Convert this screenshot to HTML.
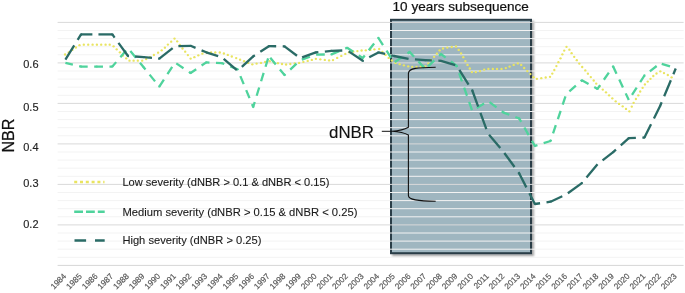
<!DOCTYPE html>
<html><head><meta charset="utf-8"><style>
html,body{margin:0;padding:0;background:#fff;}
svg{display:block;will-change:transform;font-family:"Liberation Sans", sans-serif;}
</style></head><body>
<svg width="685" height="293" viewBox="0 0 685 293">
<defs><filter id="sh" x="-10%" y="-10%" width="130%" height="130%"><feGaussianBlur in="SourceAlpha" stdDeviation="1.2"/><feOffset dx="1.5" dy="1.5" result="b"/><feComponentTransfer><feFuncA type="linear" slope="0.35"/></feComponentTransfer><feMerge><feMergeNode/><feMergeNode in="SourceGraphic"/></feMerge></filter></defs>
<rect width="685" height="293" fill="#fff"/>
<rect x="391" y="19.8" width="140" height="233.4" fill="#9fb6c0" stroke="#2a3e46" stroke-width="2" filter="url(#sh)"/>
<line x1="57.6" x2="683.6" y1="22.40" y2="22.40" stroke="#d9d9d9" stroke-width="1"/>
<line x1="57.6" x2="683.6" y1="30.50" y2="30.50" stroke="#f3f3f3" stroke-width="1"/>
<line x1="57.6" x2="683.6" y1="38.60" y2="38.60" stroke="#f3f3f3" stroke-width="1"/>
<line x1="57.6" x2="683.6" y1="46.70" y2="46.70" stroke="#f3f3f3" stroke-width="1"/>
<line x1="57.6" x2="683.6" y1="54.80" y2="54.80" stroke="#f3f3f3" stroke-width="1"/>
<line x1="57.6" x2="683.6" y1="62.90" y2="62.90" stroke="#d9d9d9" stroke-width="1"/>
<line x1="57.6" x2="683.6" y1="71.00" y2="71.00" stroke="#f3f3f3" stroke-width="1"/>
<line x1="57.6" x2="683.6" y1="79.10" y2="79.10" stroke="#f3f3f3" stroke-width="1"/>
<line x1="57.6" x2="683.6" y1="87.20" y2="87.20" stroke="#f3f3f3" stroke-width="1"/>
<line x1="57.6" x2="683.6" y1="95.30" y2="95.30" stroke="#f3f3f3" stroke-width="1"/>
<line x1="57.6" x2="683.6" y1="103.40" y2="103.40" stroke="#d9d9d9" stroke-width="1"/>
<line x1="57.6" x2="683.6" y1="111.50" y2="111.50" stroke="#f3f3f3" stroke-width="1"/>
<line x1="57.6" x2="683.6" y1="119.60" y2="119.60" stroke="#f3f3f3" stroke-width="1"/>
<line x1="57.6" x2="683.6" y1="127.70" y2="127.70" stroke="#f3f3f3" stroke-width="1"/>
<line x1="57.6" x2="683.6" y1="135.80" y2="135.80" stroke="#f3f3f3" stroke-width="1"/>
<line x1="57.6" x2="683.6" y1="143.90" y2="143.90" stroke="#d9d9d9" stroke-width="1"/>
<line x1="57.6" x2="683.6" y1="152.00" y2="152.00" stroke="#f3f3f3" stroke-width="1"/>
<line x1="57.6" x2="683.6" y1="160.10" y2="160.10" stroke="#f3f3f3" stroke-width="1"/>
<line x1="57.6" x2="683.6" y1="168.20" y2="168.20" stroke="#f3f3f3" stroke-width="1"/>
<line x1="57.6" x2="683.6" y1="176.30" y2="176.30" stroke="#f3f3f3" stroke-width="1"/>
<line x1="57.6" x2="683.6" y1="184.40" y2="184.40" stroke="#d9d9d9" stroke-width="1"/>
<line x1="57.6" x2="683.6" y1="192.50" y2="192.50" stroke="#f3f3f3" stroke-width="1"/>
<line x1="57.6" x2="683.6" y1="200.60" y2="200.60" stroke="#f3f3f3" stroke-width="1"/>
<line x1="57.6" x2="683.6" y1="208.70" y2="208.70" stroke="#f3f3f3" stroke-width="1"/>
<line x1="57.6" x2="683.6" y1="216.80" y2="216.80" stroke="#f3f3f3" stroke-width="1"/>
<line x1="57.6" x2="683.6" y1="224.90" y2="224.90" stroke="#d9d9d9" stroke-width="1"/>
<line x1="57.6" x2="683.6" y1="233.00" y2="233.00" stroke="#f3f3f3" stroke-width="1"/>
<line x1="57.6" x2="683.6" y1="241.10" y2="241.10" stroke="#f3f3f3" stroke-width="1"/>
<line x1="57.6" x2="683.6" y1="249.20" y2="249.20" stroke="#f3f3f3" stroke-width="1"/>
<line x1="57.6" x2="683.6" y1="257.30" y2="257.30" stroke="#f3f3f3" stroke-width="1"/>
<line x1="57.6" x2="683.6" y1="265.40" y2="265.40" stroke="#d6d6d6" stroke-width="1"/>
<g fill="#e9e460"><circle cx="65.1" cy="54.5" r="1.17"/><circle cx="68.7" cy="52.4" r="1.17"/><circle cx="72.3" cy="49.9" r="1.17"/><circle cx="75.9" cy="47.5" r="1.17"/><circle cx="79.5" cy="45.2" r="1.17"/><circle cx="83.8" cy="44.7" r="1.17"/><circle cx="88.2" cy="44.7" r="1.17"/><circle cx="92.6" cy="44.7" r="1.17"/><circle cx="96.9" cy="44.7" r="1.17"/><circle cx="101.2" cy="44.7" r="1.17"/><circle cx="105.6" cy="44.7" r="1.17"/><circle cx="109.7" cy="44.7" r="1.17"/><circle cx="113.6" cy="46.3" r="1.17"/><circle cx="116.7" cy="49.3" r="1.17"/><circle cx="119.9" cy="52.3" r="1.17"/><circle cx="122.9" cy="55.5" r="1.17"/><circle cx="126.2" cy="58.3" r="1.17"/><circle cx="129.5" cy="60.7" r="1.17"/><circle cx="133.6" cy="60.7" r="1.17"/><circle cx="137.8" cy="60.7" r="1.17"/><circle cx="142.2" cy="60.7" r="1.17"/><circle cx="146.2" cy="59.1" r="1.17"/><circle cx="150.1" cy="57.1" r="1.17"/><circle cx="153.9" cy="55" r="1.17"/><circle cx="158.1" cy="52.7" r="1.17"/><circle cx="161.7" cy="50.3" r="1.17"/><circle cx="164.9" cy="47.7" r="1.17"/><circle cx="167.9" cy="44.6" r="1.17"/><circle cx="171.2" cy="41.7" r="1.17"/><circle cx="174.5" cy="38.6" r="1.17"/><circle cx="177.2" cy="41.3" r="1.17"/><circle cx="179.8" cy="44.9" r="1.17"/><circle cx="182.5" cy="48.5" r="1.17"/><circle cx="185.2" cy="51.7" r="1.17"/><circle cx="187.9" cy="55.1" r="1.17"/><circle cx="190.6" cy="58.6" r="1.17"/><circle cx="194.4" cy="57.2" r="1.17"/><circle cx="198.3" cy="55.3" r="1.17"/><circle cx="202.4" cy="53.7" r="1.17"/><circle cx="206.7" cy="52.5" r="1.17"/><circle cx="211.1" cy="52.5" r="1.17"/><circle cx="215.3" cy="52.5" r="1.17"/><circle cx="219.8" cy="52.5" r="1.17"/><circle cx="223.9" cy="53.5" r="1.17"/><circle cx="227.8" cy="54.9" r="1.17"/><circle cx="231.8" cy="56.5" r="1.17"/><circle cx="236.2" cy="58.1" r="1.17"/><circle cx="240.1" cy="59.7" r="1.17"/><circle cx="244.1" cy="61.2" r="1.17"/><circle cx="248.2" cy="62.9" r="1.17"/><circle cx="252.3" cy="64.3" r="1.17"/><circle cx="256.6" cy="63.6" r="1.17"/><circle cx="261" cy="62.9" r="1.17"/><circle cx="265.1" cy="61.9" r="1.17"/><circle cx="269.7" cy="61.2" r="1.17"/><circle cx="273.8" cy="62.4" r="1.17"/><circle cx="277.9" cy="63.2" r="1.17"/><circle cx="282" cy="64" r="1.17"/><circle cx="286.1" cy="64.5" r="1.17"/><circle cx="290.3" cy="64" r="1.17"/><circle cx="294.7" cy="63.4" r="1.17"/><circle cx="299.1" cy="62.9" r="1.17"/><circle cx="303.4" cy="61.9" r="1.17"/><circle cx="307.7" cy="60.9" r="1.17"/><circle cx="311.8" cy="59.9" r="1.17"/><circle cx="315.9" cy="58.8" r="1.17"/><circle cx="320.3" cy="59.3" r="1.17"/><circle cx="324.8" cy="59.9" r="1.17"/><circle cx="329.1" cy="60.4" r="1.17"/><circle cx="333" cy="60.1" r="1.17"/><circle cx="337.2" cy="57.9" r="1.17"/><circle cx="341.3" cy="55.9" r="1.17"/><circle cx="345.3" cy="53.9" r="1.17"/><circle cx="349.1" cy="52.3" r="1.17"/><circle cx="353.3" cy="51.7" r="1.17"/><circle cx="357.4" cy="51.1" r="1.17"/><circle cx="361.6" cy="50.5" r="1.17"/><circle cx="365.8" cy="50.3" r="1.17"/><circle cx="370.3" cy="49.9" r="1.17"/><circle cx="374.4" cy="49.3" r="1.17"/><circle cx="379.2" cy="49" r="1.17"/><circle cx="382.4" cy="51.9" r="1.17"/><circle cx="385.5" cy="54.9" r="1.17"/><circle cx="388.7" cy="57.9" r="1.17"/><circle cx="391.9" cy="60.5" r="1.17"/><circle cx="395.5" cy="62.9" r="1.17"/><circle cx="399.7" cy="64.2" r="1.17"/><circle cx="403.9" cy="65.3" r="1.17"/><circle cx="408.2" cy="66.3" r="1.17"/><circle cx="412.2" cy="66.8" r="1.17"/><circle cx="416.5" cy="66.8" r="1.17"/><circle cx="420.7" cy="66.8" r="1.17"/><circle cx="425.4" cy="66.4" r="1.17"/><circle cx="428.4" cy="63.4" r="1.17"/><circle cx="431" cy="60" r="1.17"/><circle cx="434.1" cy="56.8" r="1.17"/><circle cx="436.9" cy="53.7" r="1.17"/><circle cx="439.6" cy="50.3" r="1.17"/><circle cx="443" cy="48.5" r="1.17"/><circle cx="447.3" cy="47.6" r="1.17"/><circle cx="451.7" cy="47" r="1.17"/><circle cx="456" cy="46.5" r="1.17"/><circle cx="458.7" cy="49.9" r="1.17"/><circle cx="461.1" cy="53.4" r="1.17"/><circle cx="463.3" cy="57.2" r="1.17"/><circle cx="465.4" cy="61.1" r="1.17"/><circle cx="467.5" cy="64.9" r="1.17"/><circle cx="469.8" cy="68.5" r="1.17"/><circle cx="471.9" cy="72.1" r="1.17"/><circle cx="475.8" cy="72.1" r="1.17"/><circle cx="480" cy="71.1" r="1.17"/><circle cx="484.2" cy="69.7" r="1.17"/><circle cx="488.4" cy="68.9" r="1.17"/><circle cx="492.8" cy="68.9" r="1.17"/><circle cx="497" cy="68.9" r="1.17"/><circle cx="501.5" cy="68.9" r="1.17"/><circle cx="505.8" cy="68.1" r="1.17"/><circle cx="509.6" cy="66.6" r="1.17"/><circle cx="513.7" cy="64.9" r="1.17"/><circle cx="517.8" cy="63.4" r="1.17"/><circle cx="521.2" cy="64.9" r="1.17"/><circle cx="524.2" cy="68" r="1.17"/><circle cx="527.3" cy="71.1" r="1.17"/><circle cx="530.4" cy="74.1" r="1.17"/><circle cx="533.5" cy="77.2" r="1.17"/><circle cx="536.9" cy="78.8" r="1.17"/><circle cx="541.3" cy="78.2" r="1.17"/><circle cx="545.7" cy="77.5" r="1.17"/><circle cx="550" cy="76.8" r="1.17"/><circle cx="552.3" cy="73.6" r="1.17"/><circle cx="554.3" cy="70" r="1.17"/><circle cx="556.4" cy="66.1" r="1.17"/><circle cx="558.4" cy="62.2" r="1.17"/><circle cx="560.5" cy="58.3" r="1.17"/><circle cx="562.4" cy="54.3" r="1.17"/><circle cx="564.2" cy="50.6" r="1.17"/><circle cx="566.5" cy="46.8" r="1.17"/><circle cx="569.4" cy="49.7" r="1.17"/><circle cx="571.6" cy="53.2" r="1.17"/><circle cx="574.2" cy="56.8" r="1.17"/><circle cx="576.8" cy="60.2" r="1.17"/><circle cx="579.3" cy="63.6" r="1.17"/><circle cx="582.2" cy="67" r="1.17"/><circle cx="585.3" cy="70.4" r="1.17"/><circle cx="587.9" cy="73.7" r="1.17"/><circle cx="590.8" cy="77.1" r="1.17"/><circle cx="593.7" cy="80.5" r="1.17"/><circle cx="596.2" cy="83.6" r="1.17"/><circle cx="599.5" cy="86.6" r="1.17"/><circle cx="602.8" cy="89.6" r="1.17"/><circle cx="606" cy="92.3" r="1.17"/><circle cx="609.1" cy="95.3" r="1.17"/><circle cx="612.3" cy="98.3" r="1.17"/><circle cx="615.7" cy="101.3" r="1.17"/><circle cx="619.1" cy="103.9" r="1.17"/><circle cx="622.7" cy="106.3" r="1.17"/><circle cx="626" cy="108.9" r="1.17"/><circle cx="629.4" cy="111.3" r="1.17"/><circle cx="631.8" cy="106.6" r="1.17"/><circle cx="633.6" cy="102.8" r="1.17"/><circle cx="635.9" cy="99" r="1.17"/><circle cx="638.3" cy="95.3" r="1.17"/><circle cx="640.2" cy="91.5" r="1.17"/><circle cx="642.6" cy="87.8" r="1.17"/><circle cx="644.9" cy="84.4" r="1.17"/><circle cx="647.7" cy="81.6" r="1.17"/><circle cx="650.5" cy="78.8" r="1.17"/><circle cx="653.3" cy="76" r="1.17"/><circle cx="656.5" cy="73.5" r="1.17"/><circle cx="660.3" cy="71.3" r="1.17"/><circle cx="664" cy="73.1" r="1.17"/><circle cx="667.8" cy="75" r="1.17"/><circle cx="671.6" cy="77.3" r="1.17"/></g>
<g fill="none" stroke="#4fd39c" stroke-width="2.3" stroke-dasharray="8.68 6.51">
<line x1="65.40" y1="62.80" x2="81.05" y2="66.60" stroke-dashoffset="1.00"/>
<line x1="81.05" y1="66.60" x2="96.70" y2="66.60" stroke-dashoffset="2.04"/>
<line x1="96.70" y1="66.60" x2="112.35" y2="66.60" stroke-dashoffset="2.41"/>
<line x1="112.35" y1="66.60" x2="128.00" y2="48.20" stroke-dashoffset="2.81"/>
<line x1="128.00" y1="48.20" x2="143.65" y2="67.30" stroke-dashoffset="11.48"/>
<line x1="143.65" y1="67.30" x2="159.30" y2="86.60" stroke-dashoffset="5.77"/>
<line x1="159.30" y1="86.60" x2="174.95" y2="62.50" stroke-dashoffset="0.23"/>
<line x1="174.95" y1="62.50" x2="190.60" y2="73.00" stroke-dashoffset="13.58"/>
<line x1="190.60" y1="73.00" x2="206.25" y2="62.40" stroke-dashoffset="1.91"/>
<line x1="206.25" y1="62.40" x2="221.90" y2="63.10" stroke-dashoffset="5.46"/>
<line x1="221.90" y1="63.10" x2="237.55" y2="69.30" stroke-dashoffset="6.14"/>
<line x1="237.55" y1="69.30" x2="253.20" y2="107.00" stroke-dashoffset="7.84"/>
<line x1="253.20" y1="107.00" x2="268.85" y2="56.00" stroke-dashoffset="3.45"/>
<line x1="268.85" y1="56.00" x2="284.50" y2="75.00" stroke-dashoffset="12.97"/>
<line x1="284.50" y1="75.00" x2="300.15" y2="60.30" stroke-dashoffset="7.34"/>
<line x1="300.15" y1="60.30" x2="315.80" y2="54.60" stroke-dashoffset="13.44"/>
<line x1="315.80" y1="54.60" x2="331.45" y2="54.40" stroke-dashoffset="14.88"/>
<line x1="331.45" y1="54.40" x2="347.10" y2="47.80" stroke-dashoffset="0.24"/>
<line x1="347.10" y1="47.80" x2="362.75" y2="58.00" stroke-dashoffset="1.30"/>
<line x1="362.75" y1="58.00" x2="378.40" y2="38.00" stroke-dashoffset="5.41"/>
<line x1="378.40" y1="38.00" x2="394.05" y2="62.50" stroke-dashoffset="0.15"/>
<line x1="394.05" y1="62.50" x2="409.70" y2="52.00" stroke-dashoffset="14.24"/>
<line x1="409.70" y1="52.00" x2="425.35" y2="69.00" stroke-dashoffset="2.28"/>
<line x1="425.35" y1="69.00" x2="441.00" y2="54.00" stroke-dashoffset="11.39"/>
<line x1="441.00" y1="54.00" x2="456.65" y2="66.00" stroke-dashoffset="2.85"/>
<line x1="456.65" y1="66.00" x2="472.30" y2="111.00" stroke-dashoffset="7.56"/>
<line x1="472.30" y1="111.00" x2="487.95" y2="101.00" stroke-dashoffset="9.87"/>
<line x1="487.95" y1="101.00" x2="503.60" y2="112.60" stroke-dashoffset="13.23"/>
<line x1="503.60" y1="112.60" x2="519.25" y2="118.50" stroke-dashoffset="2.59"/>
<line x1="519.25" y1="118.50" x2="534.90" y2="146.00" stroke-dashoffset="4.80"/>
<line x1="534.90" y1="146.00" x2="550.55" y2="141.00" stroke-dashoffset="6.00"/>
<line x1="550.55" y1="141.00" x2="566.20" y2="94.20" stroke-dashoffset="7.25"/>
<line x1="566.20" y1="94.20" x2="581.85" y2="80.30" stroke-dashoffset="10.94"/>
<line x1="581.85" y1="80.30" x2="597.50" y2="88.90" stroke-dashoffset="1.04"/>
<line x1="597.50" y1="88.90" x2="613.15" y2="66.50" stroke-dashoffset="4.06"/>
<line x1="613.15" y1="66.50" x2="628.80" y2="100.00" stroke-dashoffset="0.73"/>
<line x1="628.80" y1="100.00" x2="644.45" y2="75.50" stroke-dashoffset="9.22"/>
<line x1="644.45" y1="75.50" x2="660.10" y2="63.30" stroke-dashoffset="8.37"/>
<line x1="660.10" y1="63.30" x2="675.75" y2="68.20" stroke-dashoffset="13.47"/>
</g>
<g fill="#4fd39c"><circle cx="81.05" cy="66.60" r="1.15"/><circle cx="96.70" cy="66.60" r="1.15"/><circle cx="112.35" cy="66.60" r="1.15"/><circle cx="143.65" cy="67.30" r="1.15"/><circle cx="159.30" cy="86.60" r="1.15"/><circle cx="190.60" cy="73.00" r="1.15"/><circle cx="206.25" cy="62.40" r="1.15"/><circle cx="221.90" cy="63.10" r="1.15"/><circle cx="237.55" cy="69.30" r="1.15"/><circle cx="253.20" cy="107.00" r="1.15"/><circle cx="284.50" cy="75.00" r="1.15"/><circle cx="331.45" cy="54.40" r="1.15"/><circle cx="347.10" cy="47.80" r="1.15"/><circle cx="362.75" cy="58.00" r="1.15"/><circle cx="378.40" cy="38.00" r="1.15"/><circle cx="409.70" cy="52.00" r="1.15"/><circle cx="441.00" cy="54.00" r="1.15"/><circle cx="456.65" cy="66.00" r="1.15"/><circle cx="503.60" cy="112.60" r="1.15"/><circle cx="519.25" cy="118.50" r="1.15"/><circle cx="534.90" cy="146.00" r="1.15"/><circle cx="550.55" cy="141.00" r="1.15"/><circle cx="581.85" cy="80.30" r="1.15"/><circle cx="597.50" cy="88.90" r="1.15"/><circle cx="613.15" cy="66.50" r="1.15"/><circle cx="644.45" cy="75.50" r="1.15"/></g>
<g fill="none" stroke="#2a6b66" stroke-width="2.3" stroke-dasharray="17.36 6.51">
<line x1="65.40" y1="59.70" x2="81.05" y2="34.40" stroke-dashoffset="0.58"/>
<line x1="81.05" y1="34.40" x2="96.70" y2="34.40" stroke-dashoffset="6.03"/>
<line x1="96.70" y1="34.40" x2="112.35" y2="34.40" stroke-dashoffset="22.12"/>
<line x1="112.35" y1="34.40" x2="128.00" y2="56.00" stroke-dashoffset="13.46"/>
<line x1="128.00" y1="56.00" x2="143.65" y2="57.10" stroke-dashoffset="16.71"/>
<line x1="143.65" y1="57.10" x2="159.30" y2="58.70" stroke-dashoffset="8.99"/>
<line x1="159.30" y1="58.70" x2="174.95" y2="46.30" stroke-dashoffset="0.32"/>
<line x1="174.95" y1="46.30" x2="190.60" y2="45.80" stroke-dashoffset="20.42"/>
<line x1="190.60" y1="45.80" x2="206.25" y2="52.30" stroke-dashoffset="11.99"/>
<line x1="206.25" y1="52.30" x2="221.90" y2="57.30" stroke-dashoffset="4.87"/>
<line x1="221.90" y1="57.30" x2="237.55" y2="70.80" stroke-dashoffset="21.50"/>
<line x1="237.55" y1="70.80" x2="253.20" y2="56.40" stroke-dashoffset="18.05"/>
<line x1="253.20" y1="56.40" x2="268.85" y2="46.20" stroke-dashoffset="15.38"/>
<line x1="268.85" y1="46.20" x2="284.50" y2="46.30" stroke-dashoffset="10.03"/>
<line x1="284.50" y1="46.30" x2="300.15" y2="58.10" stroke-dashoffset="1.72"/>
<line x1="300.15" y1="58.10" x2="315.80" y2="52.40" stroke-dashoffset="21.79"/>
<line x1="315.80" y1="52.40" x2="331.45" y2="50.90" stroke-dashoffset="14.77"/>
<line x1="331.45" y1="50.90" x2="347.10" y2="50.30" stroke-dashoffset="6.52"/>
<line x1="347.10" y1="50.30" x2="362.75" y2="60.80" stroke-dashoffset="21.96"/>
<line x1="362.75" y1="60.80" x2="378.40" y2="52.40" stroke-dashoffset="16.54"/>
<line x1="378.40" y1="52.40" x2="394.05" y2="56.00" stroke-dashoffset="10.44"/>
<line x1="394.05" y1="56.00" x2="409.70" y2="59.10" stroke-dashoffset="2.58"/>
<line x1="409.70" y1="59.10" x2="425.35" y2="60.20" stroke-dashoffset="18.61"/>
<line x1="425.35" y1="60.20" x2="441.00" y2="60.80" stroke-dashoffset="10.86"/>
<line x1="441.00" y1="60.80" x2="456.65" y2="65.60" stroke-dashoffset="2.47"/>
<line x1="456.65" y1="65.60" x2="472.30" y2="90.50" stroke-dashoffset="18.85"/>
<line x1="472.30" y1="90.50" x2="487.95" y2="133.50" stroke-dashoffset="0.15"/>
<line x1="487.95" y1="133.50" x2="503.60" y2="152.00" stroke-dashoffset="22.16"/>
<line x1="503.60" y1="152.00" x2="519.25" y2="173.50" stroke-dashoffset="22.65"/>
<line x1="519.25" y1="173.50" x2="534.90" y2="204.00" stroke-dashoffset="1.76"/>
<line x1="534.90" y1="204.00" x2="550.55" y2="201.70" stroke-dashoffset="12.14"/>
<line x1="550.55" y1="201.70" x2="566.20" y2="194.50" stroke-dashoffset="4.44"/>
<line x1="566.20" y1="194.50" x2="581.85" y2="183.10" stroke-dashoffset="21.82"/>
<line x1="581.85" y1="183.10" x2="597.50" y2="164.30" stroke-dashoffset="16.62"/>
<line x1="597.50" y1="164.30" x2="613.15" y2="152.20" stroke-dashoffset="17.48"/>
<line x1="613.15" y1="152.20" x2="628.80" y2="138.20" stroke-dashoffset="13.61"/>
<line x1="628.80" y1="138.20" x2="644.45" y2="137.60" stroke-dashoffset="10.28"/>
<line x1="644.45" y1="137.60" x2="660.10" y2="106.00" stroke-dashoffset="2.48"/>
<line x1="660.10" y1="106.00" x2="675.75" y2="68.50" stroke-dashoffset="13.30"/>
</g>
<g fill="#2a6b66"><circle cx="81.05" cy="34.40" r="1.15"/><circle cx="112.35" cy="34.40" r="1.15"/><circle cx="128.00" cy="56.00" r="1.15"/><circle cx="143.65" cy="57.10" r="1.15"/><circle cx="159.30" cy="58.70" r="1.15"/><circle cx="190.60" cy="45.80" r="1.15"/><circle cx="206.25" cy="52.30" r="1.15"/><circle cx="253.20" cy="56.40" r="1.15"/><circle cx="268.85" cy="46.20" r="1.15"/><circle cx="284.50" cy="46.30" r="1.15"/><circle cx="315.80" cy="52.40" r="1.15"/><circle cx="331.45" cy="50.90" r="1.15"/><circle cx="362.75" cy="60.80" r="1.15"/><circle cx="378.40" cy="52.40" r="1.15"/><circle cx="394.05" cy="56.00" r="1.15"/><circle cx="425.35" cy="60.20" r="1.15"/><circle cx="441.00" cy="60.80" r="1.15"/><circle cx="472.30" cy="90.50" r="1.15"/><circle cx="519.25" cy="173.50" r="1.15"/><circle cx="534.90" cy="204.00" r="1.15"/><circle cx="550.55" cy="201.70" r="1.15"/><circle cx="581.85" cy="183.10" r="1.15"/><circle cx="613.15" cy="152.20" r="1.15"/><circle cx="628.80" cy="138.20" r="1.15"/><circle cx="644.45" cy="137.60" r="1.15"/><circle cx="660.10" cy="106.00" r="1.15"/></g>
<text x="38.5" y="68.2" font-size="11" text-anchor="end" fill="#1f1f1f" stroke="#1f1f1f" stroke-width="0.15">0.6</text>
<text x="38.5" y="111.0" font-size="11" text-anchor="end" fill="#1f1f1f" stroke="#1f1f1f" stroke-width="0.15">0.5</text>
<text x="38.5" y="150.7" font-size="11" text-anchor="end" fill="#1f1f1f" stroke="#1f1f1f" stroke-width="0.15">0.4</text>
<text x="38.5" y="186.7" font-size="11" text-anchor="end" fill="#1f1f1f" stroke="#1f1f1f" stroke-width="0.15">0.3</text>
<text x="38.5" y="227.7" font-size="11" text-anchor="end" fill="#1f1f1f" stroke="#1f1f1f" stroke-width="0.15">0.2</text>
<text transform="translate(13.6,135.6) rotate(-90)" font-size="16.5" text-anchor="middle" textLength="34" lengthAdjust="spacingAndGlyphs" fill="#111" stroke="#111" stroke-width="0.25">NBR</text>
<text transform="translate(66.80,276.8) rotate(-45)" font-size="8.2" text-anchor="end" fill="#595959" stroke="#595959" stroke-width="0.2">1984</text>
<text transform="translate(82.45,276.8) rotate(-45)" font-size="8.2" text-anchor="end" fill="#595959" stroke="#595959" stroke-width="0.2">1985</text>
<text transform="translate(98.10,276.8) rotate(-45)" font-size="8.2" text-anchor="end" fill="#595959" stroke="#595959" stroke-width="0.2">1986</text>
<text transform="translate(113.75,276.8) rotate(-45)" font-size="8.2" text-anchor="end" fill="#595959" stroke="#595959" stroke-width="0.2">1987</text>
<text transform="translate(129.40,276.8) rotate(-45)" font-size="8.2" text-anchor="end" fill="#595959" stroke="#595959" stroke-width="0.2">1988</text>
<text transform="translate(145.05,276.8) rotate(-45)" font-size="8.2" text-anchor="end" fill="#595959" stroke="#595959" stroke-width="0.2">1989</text>
<text transform="translate(160.70,276.8) rotate(-45)" font-size="8.2" text-anchor="end" fill="#595959" stroke="#595959" stroke-width="0.2">1990</text>
<text transform="translate(176.35,276.8) rotate(-45)" font-size="8.2" text-anchor="end" fill="#595959" stroke="#595959" stroke-width="0.2">1991</text>
<text transform="translate(192.00,276.8) rotate(-45)" font-size="8.2" text-anchor="end" fill="#595959" stroke="#595959" stroke-width="0.2">1992</text>
<text transform="translate(207.65,276.8) rotate(-45)" font-size="8.2" text-anchor="end" fill="#595959" stroke="#595959" stroke-width="0.2">1993</text>
<text transform="translate(223.30,276.8) rotate(-45)" font-size="8.2" text-anchor="end" fill="#595959" stroke="#595959" stroke-width="0.2">1994</text>
<text transform="translate(238.95,276.8) rotate(-45)" font-size="8.2" text-anchor="end" fill="#595959" stroke="#595959" stroke-width="0.2">1995</text>
<text transform="translate(254.60,276.8) rotate(-45)" font-size="8.2" text-anchor="end" fill="#595959" stroke="#595959" stroke-width="0.2">1996</text>
<text transform="translate(270.25,276.8) rotate(-45)" font-size="8.2" text-anchor="end" fill="#595959" stroke="#595959" stroke-width="0.2">1997</text>
<text transform="translate(285.90,276.8) rotate(-45)" font-size="8.2" text-anchor="end" fill="#595959" stroke="#595959" stroke-width="0.2">1998</text>
<text transform="translate(301.55,276.8) rotate(-45)" font-size="8.2" text-anchor="end" fill="#595959" stroke="#595959" stroke-width="0.2">1999</text>
<text transform="translate(317.20,276.8) rotate(-45)" font-size="8.2" text-anchor="end" fill="#595959" stroke="#595959" stroke-width="0.2">2000</text>
<text transform="translate(332.85,276.8) rotate(-45)" font-size="8.2" text-anchor="end" fill="#595959" stroke="#595959" stroke-width="0.2">2001</text>
<text transform="translate(348.50,276.8) rotate(-45)" font-size="8.2" text-anchor="end" fill="#595959" stroke="#595959" stroke-width="0.2">2002</text>
<text transform="translate(364.15,276.8) rotate(-45)" font-size="8.2" text-anchor="end" fill="#595959" stroke="#595959" stroke-width="0.2">2003</text>
<text transform="translate(379.80,276.8) rotate(-45)" font-size="8.2" text-anchor="end" fill="#595959" stroke="#595959" stroke-width="0.2">2004</text>
<text transform="translate(395.45,276.8) rotate(-45)" font-size="8.2" text-anchor="end" fill="#595959" stroke="#595959" stroke-width="0.2">2005</text>
<text transform="translate(411.10,276.8) rotate(-45)" font-size="8.2" text-anchor="end" fill="#595959" stroke="#595959" stroke-width="0.2">2006</text>
<text transform="translate(426.75,276.8) rotate(-45)" font-size="8.2" text-anchor="end" fill="#595959" stroke="#595959" stroke-width="0.2">2007</text>
<text transform="translate(442.40,276.8) rotate(-45)" font-size="8.2" text-anchor="end" fill="#595959" stroke="#595959" stroke-width="0.2">2008</text>
<text transform="translate(458.05,276.8) rotate(-45)" font-size="8.2" text-anchor="end" fill="#595959" stroke="#595959" stroke-width="0.2">2009</text>
<text transform="translate(473.70,276.8) rotate(-45)" font-size="8.2" text-anchor="end" fill="#595959" stroke="#595959" stroke-width="0.2">2010</text>
<text transform="translate(489.35,276.8) rotate(-45)" font-size="8.2" text-anchor="end" fill="#595959" stroke="#595959" stroke-width="0.2">2011</text>
<text transform="translate(505.00,276.8) rotate(-45)" font-size="8.2" text-anchor="end" fill="#595959" stroke="#595959" stroke-width="0.2">2012</text>
<text transform="translate(520.65,276.8) rotate(-45)" font-size="8.2" text-anchor="end" fill="#595959" stroke="#595959" stroke-width="0.2">2013</text>
<text transform="translate(536.30,276.8) rotate(-45)" font-size="8.2" text-anchor="end" fill="#595959" stroke="#595959" stroke-width="0.2">2014</text>
<text transform="translate(551.95,276.8) rotate(-45)" font-size="8.2" text-anchor="end" fill="#595959" stroke="#595959" stroke-width="0.2">2015</text>
<text transform="translate(567.60,276.8) rotate(-45)" font-size="8.2" text-anchor="end" fill="#595959" stroke="#595959" stroke-width="0.2">2016</text>
<text transform="translate(583.25,276.8) rotate(-45)" font-size="8.2" text-anchor="end" fill="#595959" stroke="#595959" stroke-width="0.2">2017</text>
<text transform="translate(598.90,276.8) rotate(-45)" font-size="8.2" text-anchor="end" fill="#595959" stroke="#595959" stroke-width="0.2">2018</text>
<text transform="translate(614.55,276.8) rotate(-45)" font-size="8.2" text-anchor="end" fill="#595959" stroke="#595959" stroke-width="0.2">2019</text>
<text transform="translate(630.20,276.8) rotate(-45)" font-size="8.2" text-anchor="end" fill="#595959" stroke="#595959" stroke-width="0.2">2020</text>
<text transform="translate(645.85,276.8) rotate(-45)" font-size="8.2" text-anchor="end" fill="#595959" stroke="#595959" stroke-width="0.2">2021</text>
<text transform="translate(661.50,276.8) rotate(-45)" font-size="8.2" text-anchor="end" fill="#595959" stroke="#595959" stroke-width="0.2">2022</text>
<text transform="translate(677.15,276.8) rotate(-45)" font-size="8.2" text-anchor="end" fill="#595959" stroke="#595959" stroke-width="0.2">2023</text>
<text x="392.6" y="10.7" font-size="12.4" textLength="136.2" lengthAdjust="spacingAndGlyphs" fill="#111" stroke="#111" stroke-width="0.2">10 years subsequence</text>
<line x1="74.2" x2="104.5" y1="182" y2="182" stroke="#e9e460" stroke-width="2.6" stroke-dasharray="3 2.8"/>
<line x1="74.2" x2="104.7" y1="211.8" y2="211.8" stroke="#4fd39c" stroke-width="2.6" stroke-dasharray="8.8 3"/>
<line x1="74.5" x2="104.7" y1="240.5" y2="240.5" stroke="#2a6b66" stroke-width="2.6" stroke-dasharray="11.6 8.9"/>
<text x="122.4" y="185.8" font-size="10.6" textLength="207" lengthAdjust="spacingAndGlyphs" fill="#1a1a1a" stroke="#1a1a1a" stroke-width="0.1">Low severity (dNBR &gt; 0.1 &amp; dNBR &lt; 0.15)</text>
<text x="122.4" y="215.5" font-size="10.6" textLength="235" lengthAdjust="spacingAndGlyphs" fill="#1a1a1a" stroke="#1a1a1a" stroke-width="0.1">Medium severity (dNBR &gt; 0.15 &amp; dNBR &lt; 0.25)</text>
<text x="122.4" y="244.3" font-size="10.6" textLength="139" lengthAdjust="spacingAndGlyphs" fill="#1a1a1a" stroke="#1a1a1a" stroke-width="0.1">High severity (dNBR &gt; 0.25)</text>
<text x="329" y="137.8" font-size="16.6" textLength="45" lengthAdjust="spacingAndGlyphs" fill="#111" stroke="#111" stroke-width="0.12">dNBR</text>
<line x1="381.8" x2="392" y1="131.3" y2="131.3" stroke="#111" stroke-width="1"/>
<path d="M435.7,67.3 C418,67.5 408.4,68 408.4,73.5 L408.4,127.3 C405,129.3 398,130.9 392,131.2 C398,131.5 405,133 408.4,135 L408.4,195.5 C408.4,200 418,201.1 435.7,201.3" fill="none" stroke="#111" stroke-width="1.1"/>
</svg>
</body></html>
